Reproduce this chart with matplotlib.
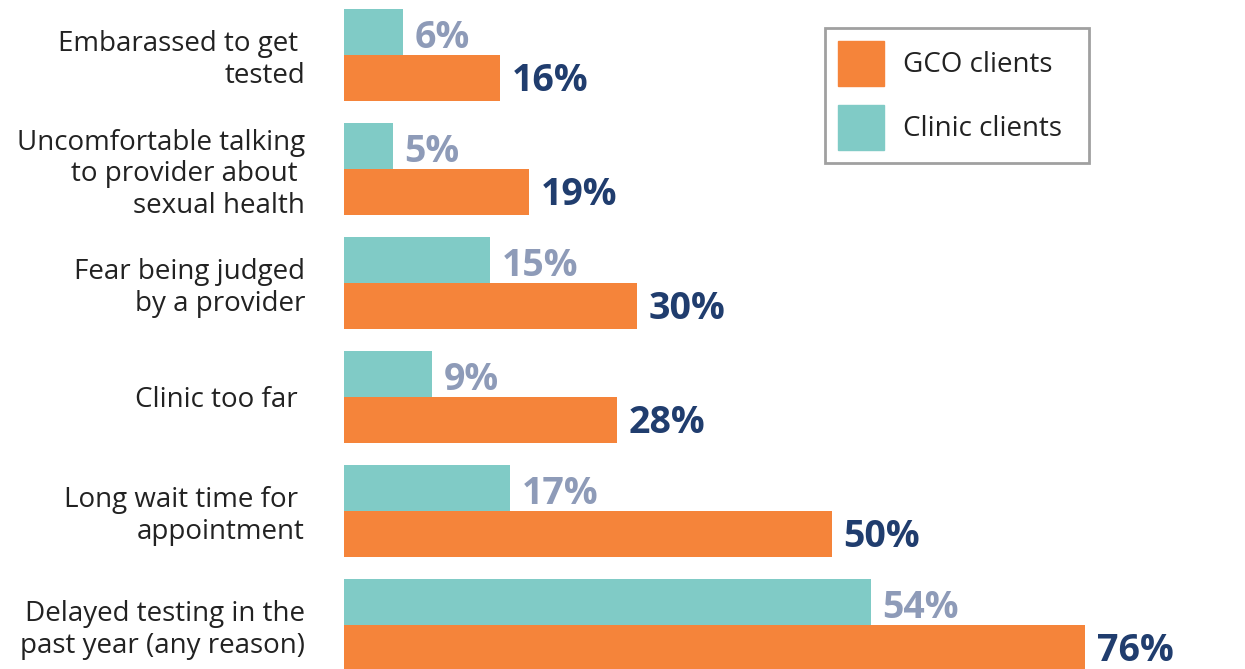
import numpy as np
import matplotlib
matplotlib.use("Agg")
import matplotlib.pyplot as plt
from matplotlib.patches import Patch

categories = [
    "Embarassed to get \ntested",
    "Uncomfortable talking\nto provider about \nsexual health",
    "Fear being judged\nby a provider",
    "Clinic too far ",
    "Long wait time for \nappointment",
    "Delayed testing in the\npast year (any reason)",
]
clinic = [6, 5, 15, 9, 17, 54]
gco = [16, 19, 30, 28, 50, 76]

teal = "#80cbc6"
orange = "#f5843a"
gray_lbl = "#8e9bb8"
navy = "#203d6e"

plt.rcParams['font.family'] = ['Open Sans', 'DejaVu Sans']

fig = plt.figure(figsize=(12.45, 6.69), dpi=100)
ax = fig.add_axes([344 / 1245, 0, 1 - 344 / 1245, 1])

y = np.arange(len(categories))
h = 0.40
ax.barh(y - h / 2, clinic, height=h, color=teal, label="Clinic clients")
ax.barh(y + h / 2, gco, height=h, color=orange, label="GCO clients")

for yi, c, g in zip(y, clinic, gco):
    ax.text(c + 1.2, yi - h / 2 + 0.05, f"{c}%", color=gray_lbl, fontsize=27,
            fontweight="bold", va="center", ha="left")
    ax.text(g + 1.2, yi + h / 2 + 0.03, f"{g}%", color=navy, fontsize=27,
            fontweight="bold", va="center", ha="left")

ax.set_xlim(0, 92.4)
ax.set_ylim(5.386, -0.482)
ax.set_yticks(y)
ax.set_yticklabels(categories, fontsize=20, color="#222222", linespacing=1.17)
ax.tick_params(axis="y", length=0, pad=28)
ax.set_xticks([])
for s in ax.spines.values():
    s.set_visible(False)

handles = [Patch(color=orange, label="GCO clients"),
           Patch(color=teal, label="Clinic clients  ")]
leg = fig.legend(handles=handles, loc="upper left",
                 bbox_to_anchor=(825 / 1245, 1 - 28 / 669),
                 bbox_transform=fig.transFigure, fontsize=20,
                 handlelength=1.66, handleheight=2.12, labelspacing=0.7,
                 handletextpad=0.7, borderpad=0.45, borderaxespad=0,
                 fancybox=False, frameon=True, edgecolor="#888888")
leg.get_frame().set_linewidth(2)
for t in leg.get_texts():
    t.set_color("#222222")

fig.savefig("out.png", dpi=100)
